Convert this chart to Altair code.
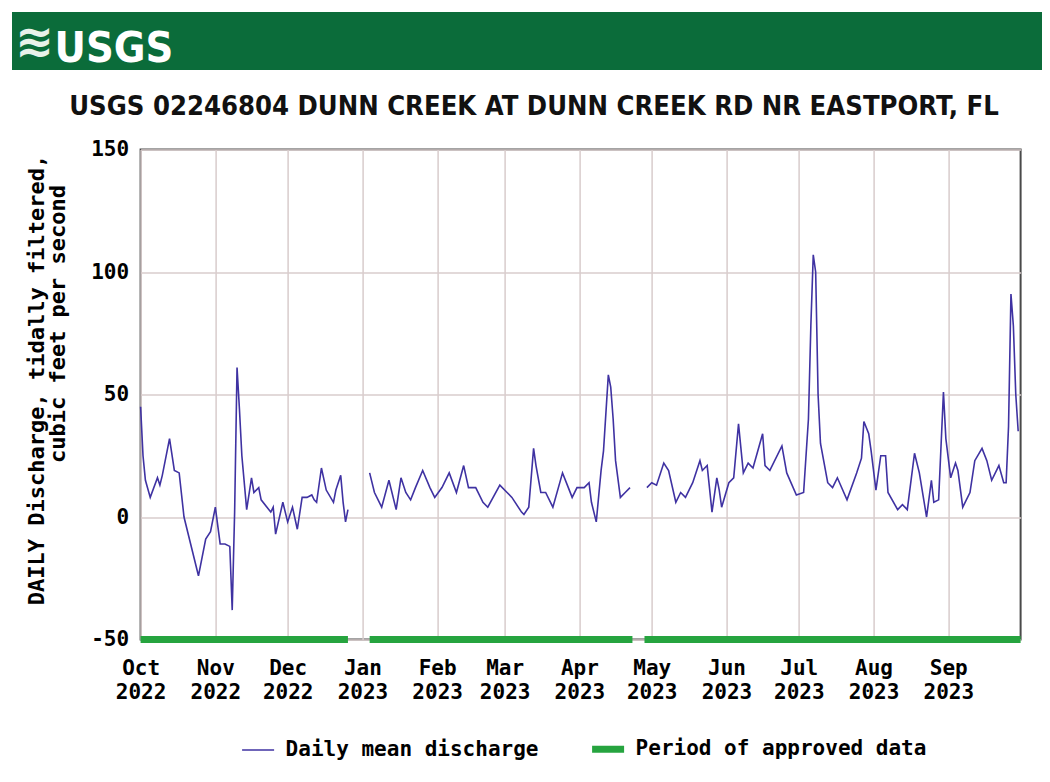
import altair as alt
import pandas as pd

# ---------------- data ----------------
START = "2022-10-01"  # day offsets below are counted from this date

seg1_days = [0, 1, 2, 4, 7, 8, 9, 12, 14, 16, 18, 24, 27, 29, 31, 33, 35, 37, 38, 39,
             40, 41, 42, 44, 46, 47, 49, 50, 54, 55, 56, 59, 61, 63, 65, 67, 69, 71,
             72, 73, 75, 77, 80, 81, 83, 84, 85, 86]
seg1_vals = [45, 25, 15, 8, 16, 13, 17, 32, 19, 18, 0, -24, -9, -6, 4, -11, -11, -12, -38, 2,
             61, 44, 25, 3, 16, 10, 12, 7, 2, 4, -7, 6, -2, 4, -5, 8, 8, 9,
             7, 6, 20, 11, 6, 11, 17, 6, -2, 3]

seg2_days = [95, 97, 100, 103, 106, 108, 110, 112, 114, 117, 120, 122, 125, 128, 131, 134,
             136, 139, 142, 144, 149, 152, 154, 158, 159, 161, 163, 164, 166, 168, 171,
             175, 177, 179, 181, 184, 186, 187, 189, 191, 192, 194, 195, 196, 197, 199,
             201, 203]
seg2_vals = [18, 10, 4, 15, 3, 16, 10, 7, 12, 19, 12, 8, 12, 18, 10, 21,
             12, 12, 6, 4, 13, 10, 8, 2, 1, 4, 28, 21, 10, 10, 4,
             18, 13, 8, 12, 12, 14, 6, -2, 19, 27, 58, 53, 40, 23, 8,
             10, 12]

seg3_days = [210, 212, 214, 217, 219, 222, 224, 226, 229, 232, 233, 235, 237, 239, 240,
             241, 244, 246, 248, 250, 252, 254, 258, 259, 261, 266, 268, 272, 275, 277,
             278, 279, 280, 281, 282, 285, 287, 289, 293, 297, 299, 300, 302, 303, 305,
             307, 309, 310, 314, 316, 318, 321, 323, 326, 328, 329, 331, 333, 334, 336,
             338, 339, 341, 344, 346, 349, 351, 353, 356, 358, 359, 360, 361, 362, 363,
             364]
seg3_vals = [12, 14, 13, 22, 19, 6, 10, 8, 14, 23, 19, 21, 2, 16, 11,
             4, 14, 16, 38, 18, 22, 20, 34, 21, 19, 29, 18, 9, 10, 40,
             78, 107, 100, 50, 30, 14, 12, 16, 7, 18, 24, 39, 34, 27, 11,
             25, 25, 10, 3, 5, 3, 26, 18, 0, 15, 6, 7, 51, 32, 16,
             22, 19, 4, 10, 23, 28, 23, 15, 21, 14, 14, 37, 91, 78, 50,
             35]

approved_start_days = [0, 95, 209]
approved_end_days = [86, 204, 365]

series_names = ["Daily mean discharge", "Period of approved data"]
title_text = "USGS 02246804 DUNN CREEK AT DUNN CREEK RD NR EASTPORT, FL"
# second line sits nearer the top in the reference: lead it with blank (U+2800) cells
y_title = ["DAILY Discharge, tidally filtered,", "\u2800" * 7 + "cubic feet per second"]
y_ticks = [-50, 0, 50, 100, 150]
month_ticks = [(2022, 10), (2022, 11), (2022, 12), (2023, 1), (2023, 2), (2023, 3),
               (2023, 4), (2023, 5), (2023, 6), (2023, 7), (2023, 8), (2023, 9)]

# ---------------- tables ----------------
t0 = pd.Timestamp(START)


def to_dates(days):
    return [(t0 + pd.Timedelta(days=d)).strftime("%Y-%m-%d") for d in days]


rows = []
for seg_id, (dd, vv) in enumerate([(seg1_days, seg1_vals), (seg2_days, seg2_vals),
                                    (seg3_days, seg3_vals)]):
    for d, v in zip(to_dates(dd), vv):
        rows.append({"date": d, "value": v, "seg": seg_id, "series": series_names[0]})
line_df = pd.DataFrame(rows)

appr_df = pd.DataFrame({
    "start": to_dates(approved_start_days),
    "end": to_dates(approved_end_days),
    "value": [-50] * len(approved_start_days),
    "series": [series_names[1]] * len(approved_start_days),
})

one = pd.DataFrame({"k": [0]})

# ---------------- style ----------------
MONO = "'DejaVu Sans Mono', 'Liberation Mono', monospace"
NARROW = "'Liberation Sans Narrow', 'DejaVu Sans Condensed', sans-serif"
PURPLE = "#3f32a2"
GREEN = "#26a43f"
BANNER = "#0b6c3a"
GRID = "#d8cccc"

W, H = 880, 490
PAD_L, PAD_T = 132.6, 141.5

x_scale = alt.Scale(type="utc",
                    domain=[alt.DateTime(year=2022, month=10, date=1, utc=True),
                            alt.DateTime(year=2023, month=10, date=1, utc=True)])
x_axis = alt.Axis(
    values=[alt.DateTime(year=y, month=m, date=1, utc=True) for y, m in month_ticks],
    labelExpr="[utcFormat(datum.value, '%b'), utcFormat(datum.value, '%Y')]",
    title=None, grid=True, gridColor=GRID, gridWidth=1.5, ticks=False, domain=False,
    labelFont=MONO, labelFontSize=21, labelFontWeight="bold", labelColor="black",
    labelPadding=18, labelLineHeight=24, labelAlign="center", labelFlush=False,
    labelOverlap=False,
)
y_scale = alt.Scale(domain=[-50, 150], nice=False, zero=False)
y_axis = alt.Axis(
    values=y_ticks, title=y_title, grid=True, gridColor=GRID, gridWidth=1.5,
    ticks=False, domain=False, labelExpr="'' + datum.value",
    labelFont=MONO, labelFontSize=21, labelFontWeight="bold", labelColor="black",
    labelPadding=12, labelBaseline="middle",
    titleFont=MONO, titleFontSize=22, titleFontWeight="bold", titleColor="black",
    titleLineHeight=21, titleAngle=-90, titleAlign="center", titleBaseline="middle",
    titleX=-104, titleY=230,
)

legend = alt.Legend(
    title=None, orient="none", legendX=98, legendY=580, direction="horizontal",
    columns=2, symbolType="stroke", symbolSize=1024, labelFont=MONO,
    labelFontSize=21, labelFontWeight="bold", labelColor="black", labelOffset=8,
    columnPadding=39, labelLimit=0,
)
color = alt.Color("series:N", scale=alt.Scale(domain=series_names, range=[PURPLE, GREEN]),
                  legend=legend)
swidth = alt.StrokeWidth("series:N", scale=alt.Scale(type="ordinal", domain=series_names,
                                                     range=[1.6, 7]), legend=legend)

line = alt.Chart(line_df).mark_line().encode(
    x=alt.X("date:T", scale=x_scale, axis=x_axis),
    y=alt.Y("value:Q", scale=y_scale, axis=y_axis),
    detail="seg:N", color=color, strokeWidth=swidth,
)

approved = alt.Chart(appr_df).mark_rule(strokeCap="butt").encode(
    x="start:T", x2="end:T", y="value:Q", color=color, strokeWidth=swidth,
)

banner = alt.Chart(one).mark_rect(color=BANNER).encode(
    x=alt.value(-128.6), x2=alt.value(905), y=alt.value(-137.5), y2=alt.value(-79.5))
logo_txt = alt.Chart(one).mark_text(
    text="USGS", font=NARROW, fontSize=43, fontWeight="bold", color="white",
    align="left", baseline="alphabetic").encode(x=alt.value(-86), y=alt.value(-88))
logo_icon = alt.Chart(one).mark_text(
    text="≋", font="DejaVu Sans", fontSize=46, fontWeight="bold", color="#e8f2ea",
    align="center", baseline="middle").encode(x=alt.value(-106), y=alt.value(-107))
title_mark = alt.Chart(one).mark_text(
    text=title_text, font=NARROW, fontSize=27.2, fontWeight="bold", color="#111111",
    align="center", baseline="alphabetic").encode(x=alt.value(393.4), y=alt.value(-35))

chart = alt.layer(banner, logo_icon, logo_txt, title_mark, line, approved).properties(
    width=W, height=H,
    autosize=alt.AutoSizeParams(type="none"),
    padding={"left": PAD_L, "top": PAD_T, "right": 1034 - PAD_L - W,
             "bottom": 766 - PAD_T - H},
).configure_view(stroke="#4a4a4a", strokeWidth=2)

chart.save("out.html", embed_options={"renderer": "svg", "actions": False})
